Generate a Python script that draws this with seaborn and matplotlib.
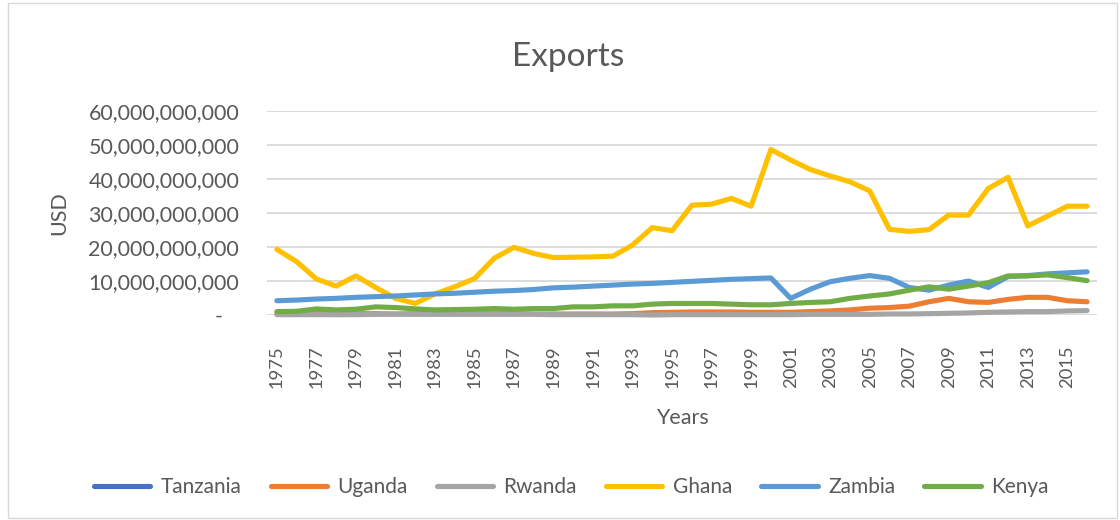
import numpy as np
import pandas as pd
import matplotlib
matplotlib.use("Agg")
import matplotlib.pyplot as plt
from matplotlib.lines import Line2D
from matplotlib.ticker import FuncFormatter
import seaborn as sns

# exports in billions of USD
years = list(range(1975, 2017))
countries = ["Tanzania", "Uganda", "Rwanda", "Ghana", "Zambia", "Kenya"]
colors = ["#4472C4", "#ED7D31", "#A5A5A5", "#FFC000", "#5B9BD5", "#70AD47"]

tanzania = [np.nan] * 42  # no visible line in the original
uganda = [0.4, 0.4, 0.5, 0.4, 0.4, 0.4, 0.3, 0.4, 0.4, 0.4, 0.4, 0.4, 0.4, 0.3,
          0.3, 0.3, 0.3, 0.3, 0.4, 0.7, 0.8, 0.9, 0.9, 0.9, 0.8, 0.8, 0.8,
          1.0, 1.2, 1.5, 2.0, 2.2, 2.6, 3.9, 4.9, 3.9, 3.7, 4.6, 5.2, 5.2, 4.2, 3.9]
rwanda = [0.1, 0.1, 0.1, 0.1, 0.1, 0.2, 0.2, 0.2, 0.2, 0.2, 0.2, 0.2, 0.2, 0.2,
          0.1, 0.1, 0.1, 0.1, 0.1, 0.0, 0.1, 0.1, 0.1, 0.1, 0.1, 0.1, 0.1,
          0.2, 0.2, 0.2, 0.2, 0.3, 0.3, 0.4, 0.5, 0.6, 0.8, 0.9, 1.0, 1.0, 1.2, 1.3]
ghana = [19.3, 15.7, 10.6, 8.5, 11.5, 8.1, 4.9, 3.4, 6.2, 8.3, 10.7, 16.7, 19.9, 18.1,
         16.9, 17.0, 17.1, 17.3, 20.6, 25.7, 24.8, 32.3, 32.6, 34.3, 32.0, 48.7, 45.6,
         42.8, 40.9, 39.2, 36.5, 25.2, 24.6, 25.1, 29.4, 29.4, 37.2, 40.5, 26.2, 29.1, 32.0, 32.0]
zambia = [4.2, 4.4, 4.7, 4.9, 5.2, 5.4, 5.6, 5.9, 6.2, 6.4, 6.7, 7.0, 7.2, 7.5,
          8.0, 8.2, 8.5, 8.8, 9.1, 9.3, 9.6, 9.9, 10.2, 10.5, 10.7, 10.9, 4.9,
          7.6, 9.8, 10.8, 11.6, 10.8, 8.1, 7.3, 8.8, 10.0, 8.1, 11.3, 11.6, 12.1, 12.4, 12.7]
kenya = [1.0, 1.1, 1.8, 1.5, 1.7, 2.4, 2.2, 1.8, 1.5, 1.6, 1.7, 1.9, 1.7, 1.9,
         1.9, 2.4, 2.4, 2.7, 2.7, 3.2, 3.4, 3.4, 3.4, 3.2, 3.0, 3.0, 3.4,
         3.7, 3.9, 4.9, 5.6, 6.2, 7.3, 8.3, 7.6, 8.5, 9.5, 11.5, 11.5, 11.8, 11.0, 10.1]

series = [tanzania, uganda, rwanda, ghana, zambia, kenya]
df = pd.concat([
    pd.DataFrame({"Year": years, "USD": np.array(v) * 1e9, "Country": c})
    for c, v in zip(countries, series)
])
palette = dict(zip(countries, colors))

sns.set_style("white")
plt.rcParams["font.family"] = ["Lato", "DejaVu Sans"]
txt = "#595959"

fig = plt.figure(figsize=(11.2, 5.2), dpi=100)
ax = fig.add_axes([0.2384, 0.3942, 0.741, 0.3923])

sns.lineplot(data=df.dropna(), x="Year", y="USD", hue="Country", hue_order=countries,
             palette=palette, linewidth=3.7, solid_capstyle="round", clip_on=False,
             legend=False, ax=ax, zorder=3)

ax.set_xlim(1974.5, 2016.5)
ax.set_ylim(0, 60e9)
ax.set_yticks(np.arange(0, 61e9, 10e9))
ax.yaxis.set_major_formatter(FuncFormatter(lambda v, p: "-   " if v == 0 else f"{v:,.0f}"))
ax.set_xticks(years[::2])
ax.set_xticklabels([str(y) for y in years[::2]], rotation=90)
ax.tick_params(axis="y", length=0, pad=20, labelsize=15.5, labelcolor=txt)
ax.tick_params(axis="x", length=0, pad=22, labelsize=13.2, labelcolor=txt)
ax.grid(axis="y", color="#D9D9D9", linewidth=1.3, zorder=0)
for s in ax.spines.values():
    s.set_visible(False)

ax.set_xlabel("Years", fontsize=15.5, color=txt, labelpad=14)
ax.set_ylabel("USD", fontsize=15.5, color=txt, labelpad=14)
fig.text(0.507, 0.89, "Exports", ha="center", va="center", fontsize=24, color=txt)

handles = [Line2D([0], [0], color=c, lw=3.7, solid_capstyle="round") for c in colors]
fig.legend(handles, countries, loc="center", bbox_to_anchor=(0.51, 0.063), ncol=6,
           frameon=False, fontsize=15, labelcolor=txt, handlelength=2.7,
           columnspacing=1.4, handletextpad=0.5)

fig.patches.append(plt.Rectangle((0.007, 0.004), 0.99, 0.99, transform=fig.transFigure,
                                 fill=False, edgecolor="#D9D9D9", linewidth=1))

fig.savefig("out.png", dpi=100)
